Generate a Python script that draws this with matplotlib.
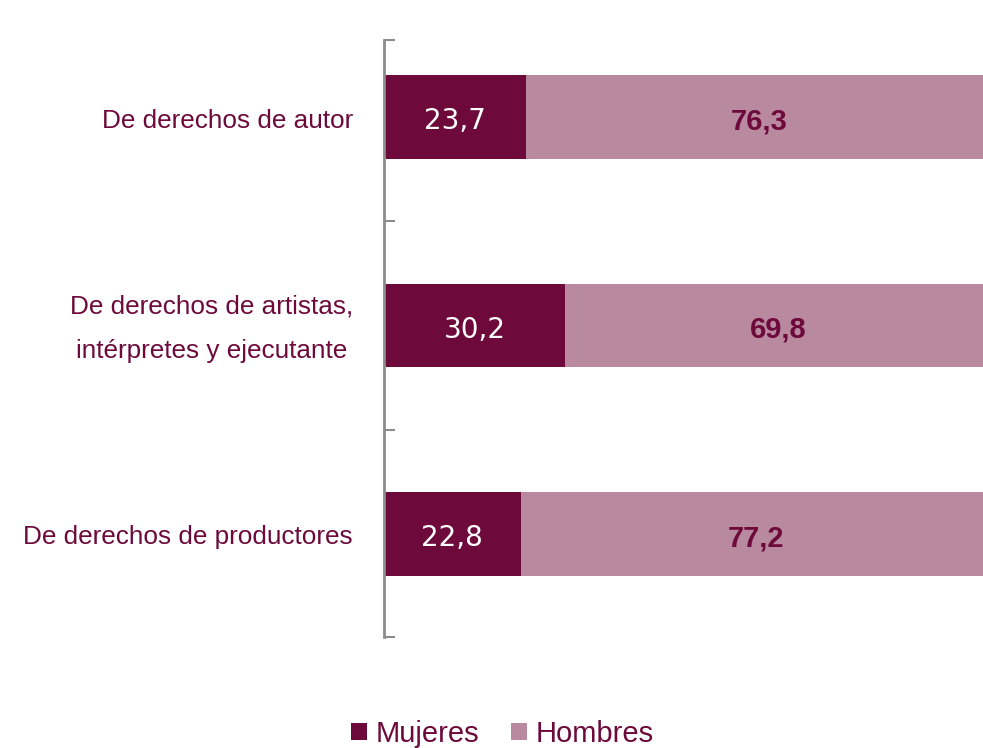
import matplotlib
matplotlib.use("Agg")
import matplotlib.pyplot as plt
from matplotlib.patches import Patch

plt.rcParams['font.family'] = ['Liberation Sans', 'DejaVu Sans']

categories = ["De derechos de productores",
              "De derechos de artistas,\nintérpretes y ejecutante",
              "De derechos de autor"]
mujeres = [22.8, 30.2, 23.7]
hombres = [77.2, 69.8, 76.3]

dark = "#6D0A3B"
light = "#B8899F"
textc = "#6D0A3B"

fig = plt.figure(figsize=(9.83, 7.48), dpi=100)
ax = fig.add_axes([384/983, 1-637/748, 1-384/983, (637-40)/748])

y = list(range(len(categories)))
h = 0.40
ax.barh(y, mujeres, height=h, color=dark, edgecolor='none')
ax.barh(y, hombres, left=mujeres, height=h, color=light, edgecolor='none')

for yi, m, hm in zip(y, mujeres, hombres):
    ax.annotate(f"{m:.1f}".replace('.', ','), (m/2, yi), xytext=(0, -3),
                textcoords='offset points', ha='center', va='center',
                color='white', fontsize=20, family=['DejaVu Sans'])
    ax.annotate(f"{hm:.1f}".replace('.', ','), (m + hm/2, yi), xytext=(3, -3),
                textcoords='offset points', ha='center', va='center',
                color=textc, fontsize=21, fontweight='bold')

ax.set_xlim(0, 100)
ax.set_ylim(-0.495, 2.37)
for s in ['top', 'right', 'bottom']:
    ax.spines[s].set_visible(False)
ax.spines['left'].set_color('#8c8c8c')
ax.spines['left'].set_linewidth(2)
ax.set_xticks([])
ax.set_yticks([-0.495, 0.5, 1.5, 2.37])
ax.set_yticklabels([])
ax.tick_params(axis='y', direction='in', length=8, width=1.5, color='#8c8c8c')

for yi, c in zip(y, categories):
    ax.annotate(c, (0, yi), xycoords=('axes fraction', 'data'), xytext=(-22.5, -2.5),
                textcoords='offset points', ha='right', va='center',
                color=textc, fontsize=18.8, linespacing=2.05, multialignment='center')

handles = [Patch(facecolor=dark, edgecolor='none'), Patch(facecolor=light, edgecolor='none')]
leg = fig.legend(handles, ["Mujeres", "Hombres"], loc='center', bbox_to_anchor=(0.511, 1-734/748),
                 ncol=2, frameon=False, fontsize=21, handlelength=0.55, handleheight=0.55,
                 handletextpad=0.3, columnspacing=1.1)
for t in leg.get_texts():
    t.set_color(textc)

fig.savefig("out.png", dpi=100)
